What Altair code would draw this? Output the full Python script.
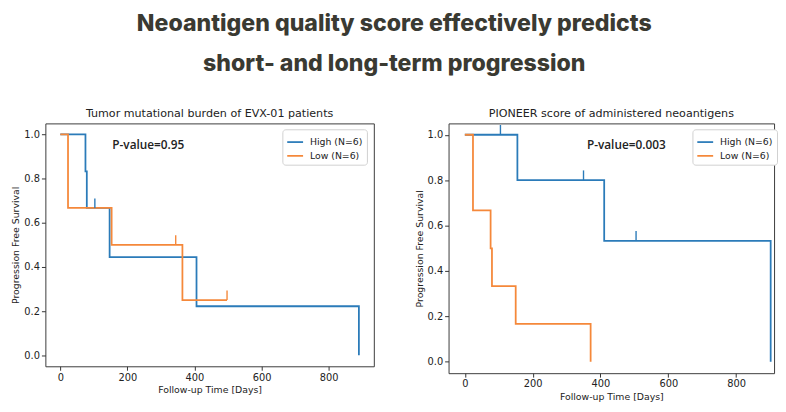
import altair as alt
import pandas as pd

BLUE = "#2b7bb9"
ORANGE = "#f5883a"
GROUPS = ["High (N=6)", "Low (N=6)"]

# ---- Left panel: Tumor mutational burden (Kaplan-Meier steps) ----
tmb_high_t = [0, 75, 79, 147, 406, 890]
tmb_high_s = [1.0, 0.833, 0.667, 0.444, 0.222, 0.0]
tmb_low_t = [0, 23, 153, 364, 497]
tmb_low_s = [1.0, 0.667, 0.5, 0.25, 0.25]
tmb_high_cens_t = [103]
tmb_high_cens_s = [0.667]
tmb_low_cens_t = [344, 497]
tmb_low_cens_s = [0.5, 0.25]

# ---- Right panel: PIONEER score ----
pio_high_t = [0, 155, 411, 902]
pio_high_s = [1.0, 0.8, 0.533, 0.0]
pio_low_t = [0, 24, 76, 80, 150, 371]
pio_low_s = [1.0, 0.667, 0.5, 0.333, 0.167, 0.0]
pio_high_cens_t = [105, 350, 505]
pio_high_cens_s = [1.0, 0.8, 0.533]

x_ticks = [0, 200, 400, 600, 800]
y_ticks = [0.0, 0.2, 0.4, 0.6, 0.8, 1.0]


def curve_df(pairs):
    rows = []
    for t, s, g in pairs:
        for i, (a, b) in enumerate(zip(t, s)):
            rows.append({"t": a, "s": b, "group": g, "idx": i})
    return pd.DataFrame(rows)


def panel(curves, censors, title, pval, pval_x, pval_y, xdomain, width, height, lx, ly):
    color = alt.Color(
        "group:N",
        scale=alt.Scale(domain=GROUPS, range=[BLUE, ORANGE]),
        legend=alt.Legend(
            title=None, orient="none", legendX=lx, legendY=ly,
            symbolType="stroke", symbolStrokeWidth=1.8, symbolSize=260,
            labelFontSize=9.5, labelFont="DejaVu Sans", labelColor="#222",
            fillColor="white", strokeColor="#d0d0d0", padding=4,
            cornerRadius=3, rowPadding=0, labelOffset=6,
        ),
    )
    x = alt.X(
        "t:Q",
        scale=alt.Scale(domain=xdomain, nice=False, zero=False),
        axis=alt.Axis(values=x_ticks, title="Follow-up Time [Days]", format="d"),
    )
    y = alt.Y(
        "s:Q",
        scale=alt.Scale(domain=[-0.05, 1.05], nice=False, zero=False),
        axis=alt.Axis(values=y_ticks, format=".1f", title="Progression Free Survival"),
    )
    lines = alt.Chart(curves).mark_line(
        interpolate="step-after", strokeWidth=1.8, clip=True
    ).encode(x=x, y=y, color=color, order=alt.Order("idx:Q"))
    cens = alt.Chart(censors).transform_calculate(
        s2="datum.s + 0.043"
    ).mark_rule(strokeWidth=1.4).encode(x=x, y="s:Q", y2="s2:Q", color=color)
    text = alt.Chart(pd.DataFrame({"label": [pval]})).mark_text(
        align="left", baseline="middle", font="Open Sans", fontSize=12,
        fontWeight=600, color="#222"
    ).encode(x=alt.datum(pval_x), y=alt.datum(pval_y), text="label:N")
    return alt.layer(lines, cens, text).properties(
        width=width, height=height,
        title=alt.TitleParams(title, fontSize=11.3, font="DejaVu Sans",
                              fontWeight="normal", color="#222", offset=4),
    )


left_curves = curve_df([(tmb_high_t, tmb_high_s, GROUPS[0]), (tmb_low_t, tmb_low_s, GROUPS[1])])
left_cens = curve_df([(tmb_high_cens_t, tmb_high_cens_s, GROUPS[0]),
                      (tmb_low_cens_t, tmb_low_cens_s, GROUPS[1])])
right_curves = curve_df([(pio_high_t, pio_high_s, GROUPS[0]), (pio_low_t, pio_low_s, GROUPS[1])])
right_cens = curve_df([(pio_high_cens_t, pio_high_cens_s, GROUPS[0])])

left = panel(left_curves, left_cens, "Tumor mutational burden of EVX-01 patients",
             "P-value=0.95", 155, 0.95, [-44.5, 934.5], 334, 247, 241, 6)
right = panel(right_curves, right_cens, "PIONEER score of administered neoantigens",
              "P-value=0.003", 360, 0.955, [-48, 912], 331, 254, 248, 6)

chart = alt.hconcat(left, right, spacing=39).resolve_scale(
    color="independent"
).resolve_legend(color="independent").properties(
    title=alt.TitleParams(
        ["Neoantigen quality score effectively predicts", "short- and long-term progression"],
        fontSize=23.5, font="Inter", fontWeight=800, color="#3a3a32",
        lineHeight=41, anchor="middle", offset=33,
    ),
    padding={"left": 2, "top": 0, "right": 0, "bottom": 0},
).configure_view(
    stroke="#3a3a3a", strokeWidth=1
).configure_axis(
    grid=False, domain=False, tickColor="#333", tickSize=4, labelColor="#222",
    labelFont="DejaVu Sans", labelFontSize=10, titleFont="DejaVu Sans",
    titleFontSize=9.5, titleFontWeight="normal", titleColor="#222",
    labelPadding=2, titlePadding=3,
)

chart.save("out.html", embed_options={"renderer": "svg", "actions": False})
